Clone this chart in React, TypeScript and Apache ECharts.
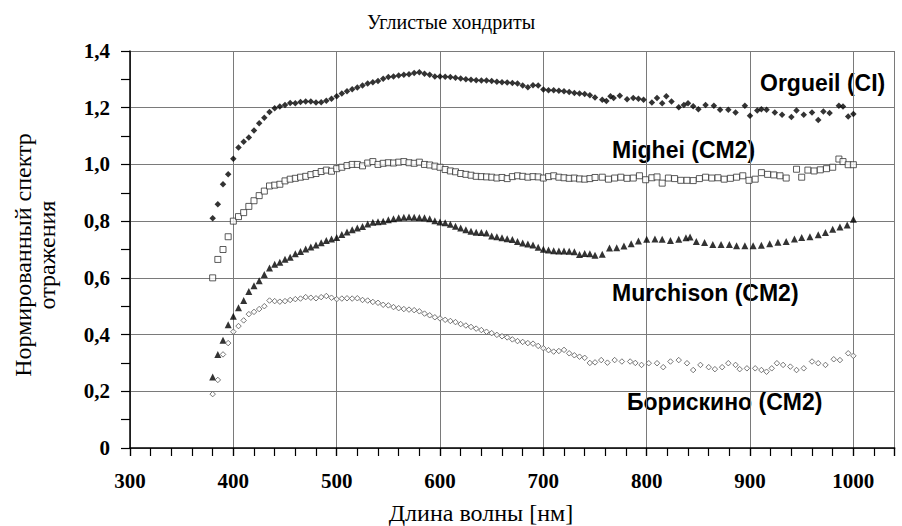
import React, { useEffect, useRef } from "react";
import * as echarts from "echarts";

// Wavelengths (nm) for the densely sampled part of the spectra
const denseNm = [
  380, 385, 390, 395, 400, 405, 410, 415, 420, 425, 430, 435, 440, 445, 450,
  455, 460, 465, 470, 475, 480, 485, 490, 495, 500, 505, 510, 515, 520, 525,
  530, 535, 540, 545, 550, 555, 560, 565, 570, 575, 580, 585, 590, 595, 600,
  605, 610, 615, 620, 625, 630, 635, 640, 645, 650, 655, 660, 665, 670, 675,
  680, 685, 690, 695, 700, 705, 710, 715, 720, 725, 730, 735, 740, 745, 750,
];

const orgueilDense = [
  0.81, 0.86, 0.93, 0.965, 1.02, 1.06, 1.08, 1.095, 1.12, 1.145,
  1.165, 1.185, 1.198, 1.204, 1.21, 1.217, 1.216, 1.22, 1.222, 1.222,
  1.218, 1.219, 1.225, 1.232, 1.24, 1.25, 1.258, 1.265, 1.271, 1.278,
  1.285, 1.29, 1.294, 1.302, 1.308, 1.31, 1.314, 1.316, 1.318, 1.322,
  1.325, 1.32, 1.316, 1.31, 1.31, 1.309, 1.308, 1.306, 1.303, 1.3,
  1.299, 1.297, 1.296, 1.296, 1.294, 1.292, 1.29, 1.289, 1.287, 1.285,
  1.278, 1.272, 1.279, 1.278, 1.264, 1.262, 1.262, 1.26, 1.258, 1.255,
  1.252, 1.25, 1.248, 1.244, 1.236,
];
const orgueilTailNm = [
  757, 761, 765, 768, 774, 781, 787, 792, 797, 805, 810, 815, 819, 824, 831,
  836, 840, 845, 850, 857, 865, 871, 879, 886, 895, 900, 907, 911, 916, 924,
  931, 940, 945, 952, 960, 966, 971, 977, 986, 990, 995, 1000,
];
const orgueilTail = [
  1.228, 1.224, 1.24, 1.234, 1.242, 1.23, 1.234, 1.232, 1.228, 1.218,
  1.234, 1.216, 1.24, 1.222, 1.202, 1.21, 1.216, 1.205, 1.195, 1.21,
  1.207, 1.193, 1.193, 1.183, 1.207, 1.172, 1.19, 1.195, 1.193, 1.183,
  1.175, 1.167, 1.19, 1.175, 1.183, 1.157, 1.187, 1.181, 1.207, 1.204,
  1.169, 1.178,
];

const migheiDense = [
  0.6, 0.665, 0.7, 0.745, 0.8, 0.816, 0.83, 0.852, 0.872, 0.89,
  0.906, 0.924, 0.927, 0.93, 0.942, 0.948, 0.951, 0.955, 0.958, 0.964,
  0.968, 0.975, 0.98, 0.976, 0.985, 0.99, 0.996, 1.0, 1.0, 0.995,
  1.005, 1.01, 1.0, 1.004, 1.006, 1.005, 1.008, 1.01, 1.006, 1.004,
  1.008, 1.0, 0.998, 0.994, 0.99, 0.982, 0.977, 0.974, 0.968, 0.965,
  0.962, 0.958, 0.957, 0.956, 0.955, 0.952, 0.954, 0.95, 0.957, 0.96,
  0.958, 0.955, 0.957, 0.956, 0.952, 0.957, 0.96, 0.955, 0.953, 0.951,
  0.952, 0.949, 0.948, 0.95, 0.954,
];
const migheiTailNm = [
  757, 763, 769, 775, 781, 787, 793, 799, 805, 810, 815, 821, 827, 833, 839,
  845, 851, 857, 863, 869, 875, 881, 887, 893, 899, 905, 911, 917, 923, 929,
  935, 945, 950, 956, 962, 968, 974, 980, 986, 990, 995, 1000,
];
const migheiTail = [
  0.955, 0.948, 0.952, 0.955, 0.951, 0.952, 0.96, 0.946, 0.953, 0.956,
  0.934, 0.952, 0.95, 0.944, 0.944, 0.943, 0.95, 0.955, 0.952, 0.953,
  0.948, 0.951, 0.955, 0.96, 0.944, 0.948, 0.971, 0.965, 0.963, 0.96,
  0.952, 0.983, 0.955, 0.98, 0.977, 0.981, 0.985, 0.99, 1.019, 1.01,
  0.999, 0.999,
];

const murchisonDense = [
  0.25, 0.33, 0.38, 0.435, 0.465, 0.495, 0.52, 0.552, 0.572, 0.59,
  0.612, 0.635, 0.648, 0.655, 0.666, 0.673, 0.685, 0.693, 0.702, 0.709,
  0.716, 0.724, 0.732, 0.737, 0.742, 0.753, 0.762, 0.77, 0.776, 0.781,
  0.79, 0.796, 0.798, 0.8, 0.805, 0.808, 0.812, 0.814, 0.815, 0.814,
  0.813, 0.812, 0.808, 0.801, 0.797, 0.794, 0.789, 0.782, 0.776, 0.77,
  0.764, 0.761, 0.76, 0.758, 0.748, 0.745, 0.741, 0.738, 0.735, 0.728,
  0.723, 0.719, 0.716, 0.708, 0.701, 0.698, 0.696, 0.695, 0.695, 0.694,
  0.692, 0.682, 0.686, 0.685, 0.68,
];
const murchisonTailNm = [
  757, 764, 771, 778, 785, 792, 800, 808, 815, 823, 831, 838, 842, 848, 856,
  864, 872, 880, 887, 895, 903, 911, 919, 927, 935, 943, 950, 958, 966, 973,
  980, 987, 994, 1000,
];
const murchisonTail = [
  0.683, 0.705, 0.706, 0.712, 0.72, 0.73, 0.736, 0.737, 0.736, 0.732,
  0.736, 0.741, 0.744, 0.728, 0.725, 0.718, 0.718, 0.718, 0.713, 0.713,
  0.713, 0.715, 0.72, 0.726, 0.728, 0.737, 0.742, 0.745, 0.752, 0.76,
  0.771, 0.779, 0.786, 0.807,
];

const boriskinoDense = [
  0.19, 0.24, 0.33, 0.37, 0.41, 0.43, 0.45, 0.472, 0.48, 0.49,
  0.5, 0.52, 0.518, 0.516, 0.518, 0.522, 0.525, 0.527, 0.532, 0.53,
  0.528, 0.532, 0.536, 0.53, 0.525, 0.527, 0.528, 0.527, 0.528, 0.522,
  0.52, 0.515, 0.512, 0.505, 0.503, 0.497, 0.493, 0.49, 0.488, 0.486,
  0.482, 0.474, 0.468, 0.461, 0.457, 0.452, 0.448, 0.444, 0.437, 0.432,
  0.427, 0.421, 0.416, 0.41, 0.405, 0.399, 0.394, 0.39, 0.383, 0.377,
  0.374, 0.37, 0.368, 0.36, 0.352, 0.345, 0.34, 0.342, 0.346, 0.334,
  0.327, 0.322, 0.318, 0.3, 0.302,
];
const boriskinoTailNm = [
  756, 762, 769, 776, 784, 789, 795, 802, 810, 816, 823, 831, 839, 845, 852,
  860, 866, 873, 879, 886, 890, 897, 905, 911, 916, 921, 926, 932, 939, 945,
  952, 960, 966, 973, 981, 987, 995, 1000,
];
const boriskinoTail = [
  0.31, 0.301, 0.31, 0.305, 0.305, 0.3, 0.293, 0.299, 0.299, 0.285,
  0.305, 0.31, 0.299, 0.275, 0.293, 0.285, 0.278, 0.285, 0.299, 0.293,
  0.278, 0.281, 0.281, 0.275, 0.269, 0.281, 0.299, 0.293, 0.287, 0.275,
  0.281, 0.305, 0.299, 0.293, 0.313, 0.31, 0.334, 0.325,
];

const seriesNames = ["Orgueil (CI)", "Mighei (CM2)", "Murchison (CM2)", "Борискино (CM2)"];
const titleText = "Углистые хондриты";
const xTitle = "Длина волны [нм]";
const yTitle = "Нормированный спектр\nотражения";

const SERIF = '"Liberation Serif", "Times New Roman", serif';
const SANS = '"Liberation Sans", Arial, sans-serif';

function pairs(nmA: number[], vA: number[], nmB: number[], vB: number[]) {
  const out: number[][] = [];
  nmA.forEach((x, i) => out.push([x, vA[i]]));
  nmB.forEach((x, i) => out.push([x, vB[i]]));
  return out;
}

export default function App() {
  const ref = useRef<HTMLDivElement>(null);
  useEffect(() => {
    if (!ref.current) return;
    const chart = echarts.init(ref.current, undefined, { renderer: "svg" });
    const labelStyle = (text: string, x: number, y: number) => ({
      type: "text",
      x,
      y,
      style: {
        text,
        font: `bold 23px ${SANS}`,
        fill: "#000",
        textAlign: "left",
        textVerticalAlign: "middle",
      },
    });
    chart.setOption({
      animation: false,
      backgroundColor: "#fff",
      grid: { left: 130, top: 51, width: 764.7, height: 397, containLabel: false },
      xAxis: [
        {
          type: "value",
          min: 300,
          max: 1040,
          interval: 100,
          axisLine: { show: true, onZero: false, lineStyle: { color: "#000", width: 1.5 } },
          axisTick: { show: true, length: 8, inside: false, lineStyle: { color: "#000", width: 1.2 } },
          splitLine: { show: true, lineStyle: { color: "#7a7a7a", width: 1 } },
          axisLabel: {
            margin: 22,
            fontFamily: SERIF,
            fontSize: 21,
            fontWeight: "bold",
            color: "#000",
            formatter: (v: number) => (v % 100 === 0 ? String(v) : ""),
          },
        },
        {
          type: "value",
          position: "bottom",
          min: 300,
          max: 1040,
          interval: 20,
          axisLine: { show: false, onZero: false },
          axisTick: { show: true, length: 8, inside: false, lineStyle: { color: "#000", width: 1.2 } },
          splitLine: { show: false },
          axisLabel: { show: false },
        },
      ],
      yAxis: {
        type: "value",
        min: 0,
        max: 1.4,
        interval: 0.2,
        axisLine: { show: true, onZero: false, lineStyle: { color: "#000", width: 1.5 } },
        axisTick: { show: true, length: 9, inside: false, lineStyle: { color: "#000", width: 1.2 } },
        minorTick: { show: true, splitNumber: 2, length: 9, lineStyle: { color: "#000", width: 1.2 } },
        splitLine: { show: true, lineStyle: { color: "#7a7a7a", width: 1 } },
        axisLabel: {
          margin: 20,
          fontFamily: SERIF,
          fontSize: 21,
          fontWeight: "bold",
          color: "#000",
          formatter: (v: number) => (v === 0 ? "0" : v.toFixed(1).replace(".", ",")),
        },
      },
      graphic: [
        {
          type: "text",
          x: 451,
          y: 22,
          style: { text: titleText, font: `20px ${SERIF}`, fill: "#000", textAlign: "center", textVerticalAlign: "middle" },
        },
        {
          type: "text",
          x: 481,
          y: 513,
          style: { text: xTitle, font: `24px ${SERIF}`, fill: "#000", textAlign: "center", textVerticalAlign: "middle" },
        },
        {
          type: "text",
          x: 35,
          y: 255,
          rotation: Math.PI / 2,
          style: {
            text: yTitle,
            font: `24px ${SERIF}`,
            lineHeight: 24,
            fill: "#000",
            textAlign: "center",
            textVerticalAlign: "middle",
          },
        },
        labelStyle(seriesNames[0], 760, 83),
        labelStyle(seriesNames[1], 612, 150),
        labelStyle(seriesNames[2], 612, 293),
        labelStyle(seriesNames[3], 627, 402),
      ],
      series: [
        {
          name: seriesNames[0],
          type: "scatter",
          symbol: "diamond",
          symbolSize: 6.5,
          itemStyle: { color: "#000" },
          data: pairs(denseNm, orgueilDense, orgueilTailNm, orgueilTail),
        },
        {
          name: seriesNames[1],
          type: "scatter",
          symbol: "rect",
          symbolSize: 6,
          itemStyle: { color: "#fff", borderColor: "#333", borderWidth: 1 },
          data: pairs(denseNm, migheiDense, migheiTailNm, migheiTail),
        },
        {
          name: seriesNames[2],
          type: "scatter",
          symbol: "triangle",
          symbolSize: 7,
          itemStyle: { color: "#000" },
          data: pairs(denseNm, murchisonDense, murchisonTailNm, murchisonTail),
        },
        {
          name: seriesNames[3],
          type: "scatter",
          symbol: "diamond",
          symbolSize: 5.5,
          itemStyle: { color: "#fff", borderColor: "#555", borderWidth: 1 },
          data: pairs(denseNm, boriskinoDense, boriskinoTailNm, boriskinoTail),
        },
      ],
    });
    return () => chart.dispose();
  }, []);
  return (
    <div
      ref={ref}
      style={{ position: "absolute", left: 0, top: 0, width: 902, height: 526, background: "#fff" }}
    />
  );
}
